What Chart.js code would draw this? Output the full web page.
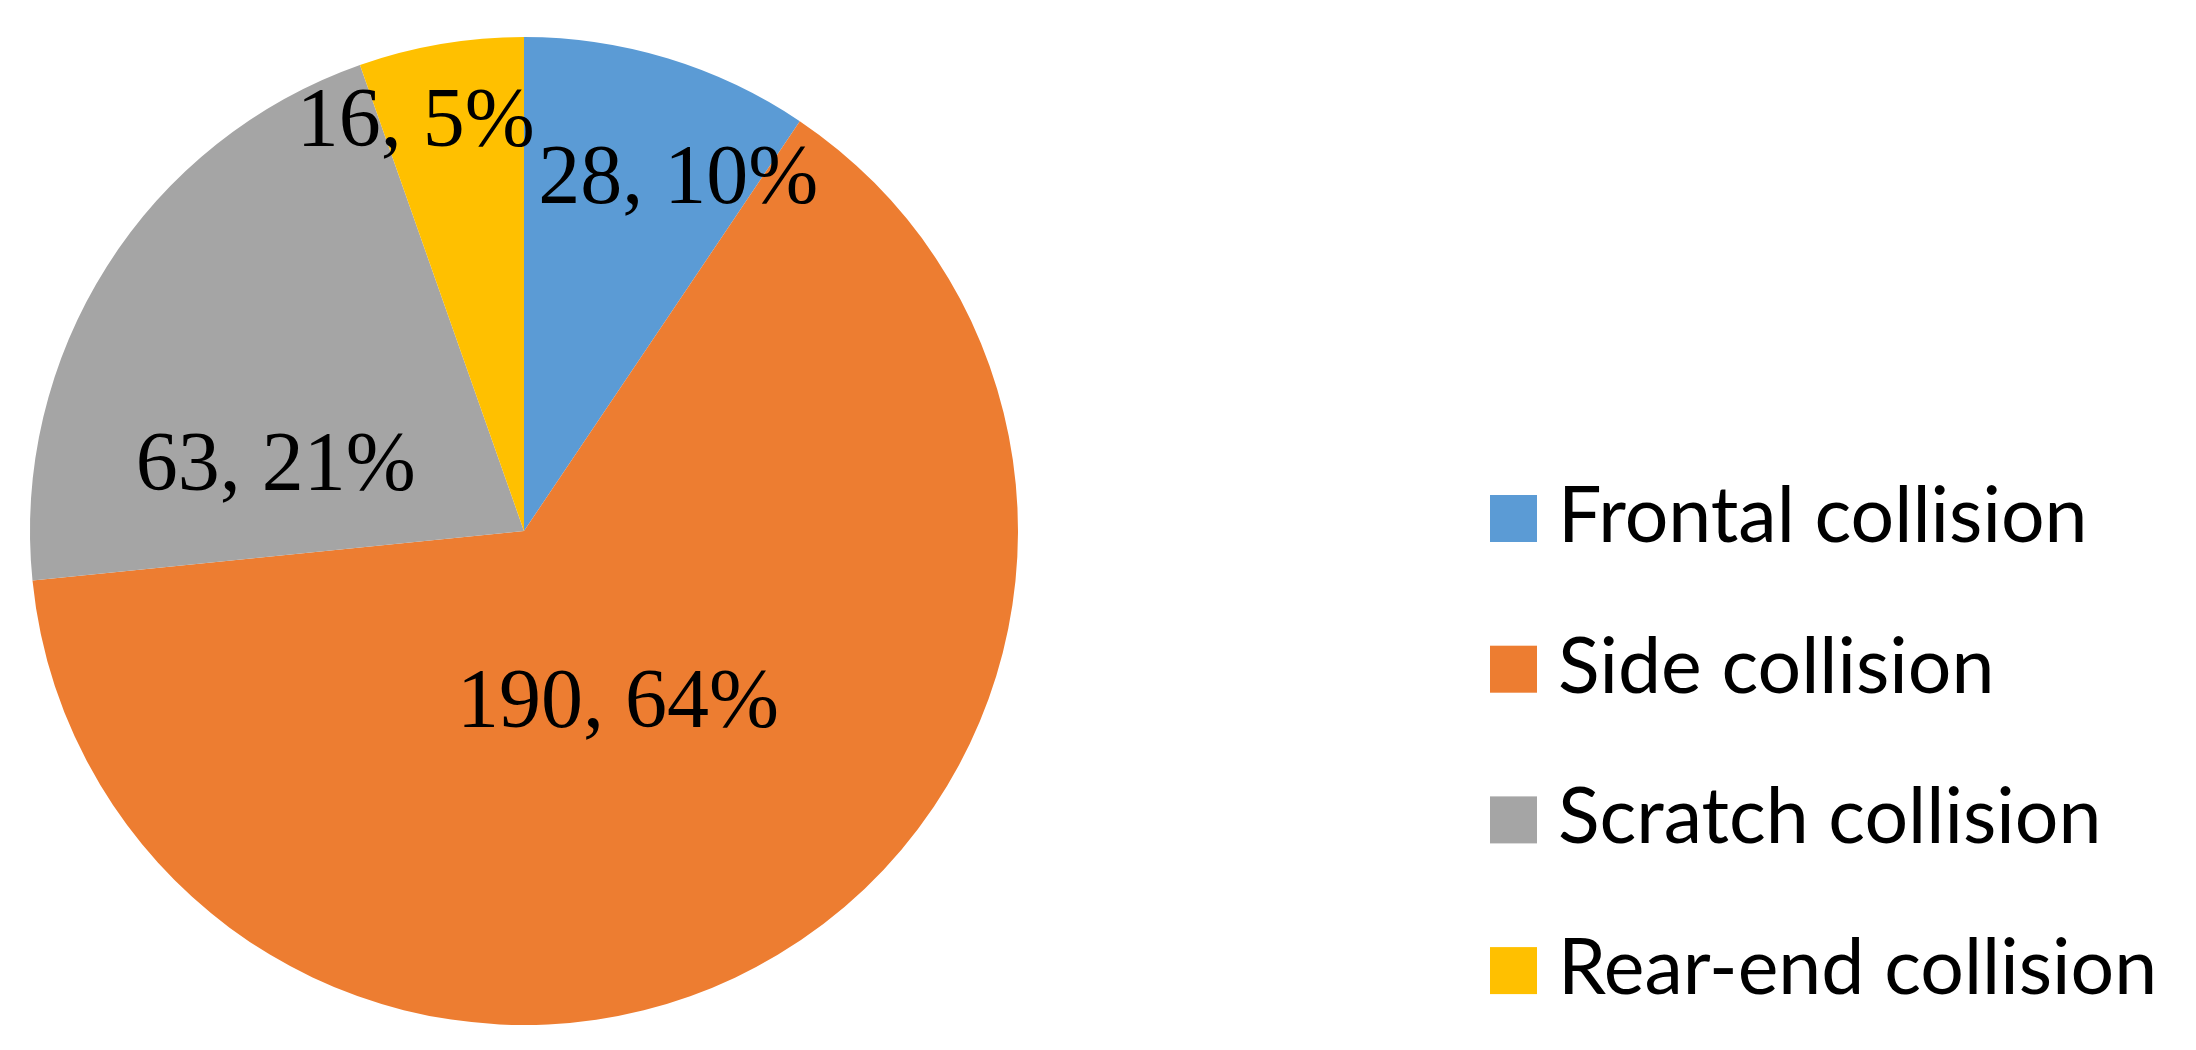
<!DOCTYPE html>
<html>
<head>
<meta charset="utf-8">
<script src="https://cdn.jsdelivr.net/npm/chart.js@4.4.1/dist/chart.umd.min.js"></script>
<style>
  html, body { margin: 0; padding: 0; background: #ffffff; }
  #wrap { width: 2196px; height: 1050px; }
</style>
</head>
<body>
<div id="wrap"><canvas id="c" width="2196" height="1050"></canvas></div>
<script>
const categories = ["Frontal collision", "Side collision", "Scratch collision", "Rear-end collision"];
const counts = [28, 190, 63, 16];
const percentLabels = ["10%", "64%", "21%", "5%"];
const colors = ["#5B9BD5", "#ED7D31", "#A5A5A5", "#FFC000"];

// label placement: fraction of radius and angle (deg, clockwise from top)
const labelPlacement = [
  { r: 0.78, a: 23.6 },
  { r: 0.395, a: 151.2 },
  { r: 0.52, a: 284.9 },
  { r: 0.858, a: 345.2 }
];

const dataLabelPlugin = {
  id: 'dataLabels',
  afterDatasetsDraw(chart) {
    const ctx = chart.ctx;
    const meta = chart.getDatasetMeta(0);
    ctx.save();
    ctx.font = '84px "Liberation Serif", "Times New Roman", serif';
    ctx.fillStyle = '#000000';
    ctx.textAlign = 'center';
    ctx.textBaseline = 'middle';
    meta.data.forEach((arc, i) => {
      const p = labelPlacement[i];
      const rad = p.a * Math.PI / 180;
      const d = arc.outerRadius * p.r;
      const x = arc.x + Math.sin(rad) * d;
      const y = arc.y - Math.cos(rad) * d;
      ctx.fillText(counts[i] + ', ' + percentLabels[i], x, y + 3);
    });
    ctx.restore();
  }
};

const legendPlugin = {
  id: 'customLegend',
  afterDraw(chart) {
    const ctx = chart.ctx;
    const ds = chart.data.datasets[0];
    const left = 1490, top = 495, box = 47, gap = 150.7;
    ctx.save();
    ctx.font = '77px Lato, "Open Sans", sans-serif';
    ctx.textAlign = 'left';
    ctx.textBaseline = 'alphabetic';
    chart.data.labels.forEach((lab, i) => {
      const y = top + i * gap;
      ctx.fillStyle = ds.backgroundColor[i];
      ctx.fillRect(left, y, box, box);
      ctx.fillStyle = '#000000';
      ctx.fillText(lab, 1558, y + box);
    });
    ctx.restore();
  }
};

new Chart(document.getElementById('c'), {
  type: 'pie',
  data: {
    labels: categories,
    datasets: [{
      data: counts,
      backgroundColor: colors,
      borderWidth: 0
    }]
  },
  options: {
    responsive: false,
    animation: false,
    layout: { padding: { left: 30, top: 37, right: 1178, bottom: 25 } },
    plugins: {
      legend: { display: false },
      tooltip: { enabled: false }
    }
  },
  plugins: [dataLabelPlugin, legendPlugin]
});
</script>
</body>
</html>
